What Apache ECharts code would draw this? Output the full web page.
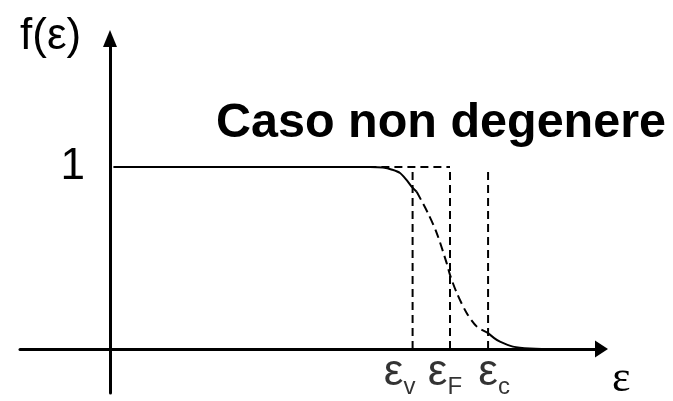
<!DOCTYPE html>
<html><head><meta charset="utf-8">
<script src="https://cdn.jsdelivr.net/npm/echarts@6/dist/echarts.min.js"></script>
<style>html,body{margin:0;padding:0;background:#fff}#c{width:673px;height:401px}</style>
</head><body><div id="c"></div>
<script>
// ---- data ----
const titleText = 'Caso non degenere';
const yAxisName = 'f(ε)';
const xAxisName = 'ε';
const yTickValues = [1];
const yTickLabels = ['1'];
const levelNames = ['v', 'F', 'c'];          // subscripts of ε_v, ε_F, ε_c
const levelValues = [8.9, 10.0, 11.12];       // energies of the dashed verticals
const boxTopLine = [[7.6, 1], [10.0, 1]];     // dashed top segment at f = 1
const curveSolidLeft = [[0.1, 1], [4, 1], [7.65, 1], [8.03, 0.997], [8.3, 0.985], [8.53, 0.967], [8.72, 0.929], [8.87, 0.892], [9.02, 0.864]];
const curveDashed = [[9.02, 0.864], [9.35, 0.747], [9.61, 0.637], [9.9, 0.473], [10.0, 0.407], [10.2, 0.308], [10.49, 0.198], [10.79, 0.123], [11.1, 0.09]];
const curveSolidRight = [[11.1, 0.09], [11.3, 0.06], [11.47, 0.04], [11.85, 0.013], [12.35, 0.003], [13.15, 0], [13.5, 0]];

// ---- chart ----
const chart = echarts.init(document.getElementById('c'), null, {renderer: 'canvas'});
const black = '#000';
const sans = 'Liberation Sans';
// per-label paddings used to nudge the level labels (style only)
const labelPads = [{e: [0, 0, 0, 0], s: [26, 26, 0, 0]}, {e: [0, 0, 0, 0], s: [26, 10, 0, 0]}, {e: [0, 0, 0, 12], s: [26, 0, 0, 0]}];
const rich = {};
labelPads.forEach((p, k) => {
  rich['e' + k] = {fontFamily: sans, fontSize: 44, lineHeight: 48, color: black, padding: p.e};
  rich['s' + k] = {fontFamily: sans, fontSize: 24, lineHeight: 22, color: black, verticalAlign: 'top', padding: p.s};
});

const dashed = [8, 5];
const series = [
  {type: 'line', data: curveSolidLeft, smooth: 0.3, showSymbol: false, lineStyle: {color: black, width: 2}},
  {type: 'line', data: curveDashed, smooth: 0.3, showSymbol: false, lineStyle: {color: black, width: 2, type: [9, 5]}},
  {type: 'line', data: curveSolidRight, smooth: 0.3, showSymbol: false, lineStyle: {color: black, width: 2}},
  {type: 'line', data: boxTopLine, showSymbol: false, lineStyle: {color: black, width: 2, type: dashed}}
];
levelValues.forEach(v => {
  series.push({type: 'line', data: [[v, 0], [v, 1]], showSymbol: false, lineStyle: {color: black, width: 2, type: dashed}});
});
series.push({
  type: 'scatter', symbolSize: 0, silent: true, z: 5,
  data: levelValues.map((v, i) => ({value: [v, 0], name: levelNames[i]})),
  label: {
    show: true, position: 'bottom', distance: 0,
    formatter: p => '{e' + p.dataIndex + '|ε}{s' + p.dataIndex + '|' + p.name + '}',
    rich: rich
  },
  labelLayout: {hideOverlap: false}
});

chart.setOption({
  animation: false,
  backgroundColor: '#fff',
  title: [
    {text: titleText, left: 216, top: 99, padding: 0, textStyle: {fontFamily: sans, fontSize: 48.5, fontWeight: 'bold', color: black}},
    {text: yAxisName, left: 20, top: 15, padding: 0, textStyle: {fontFamily: sans, fontSize: 44, fontWeight: 'normal', color: black}},
    {text: xAxisName, left: 612, top: 357, padding: 0, textStyle: {fontFamily: 'Liberation Serif', fontSize: 44, fontWeight: 'normal', color: black}}
  ],
  grid: {left: 20, right: 71.5, top: 38.5, bottom: 8, containLabel: false, outerBoundsMode: 'none'},
  xAxis: {
    type: 'value', min: -2.647, max: 14.456,
    axisLine: {onZero: true, lineStyle: {color: black, width: 3}, symbol: ['none', 'triangle'], symbolSize: [17, 13]},
    axisTick: {show: false},
    splitLine: {show: false},
    axisLabel: {show: false}
  },
  yAxis: {
    type: 'value', min: -0.2418, max: 1.706,
    axisLine: {onZero: true, lineStyle: {color: black, width: 3}, symbol: ['none', 'triangle'], symbolSize: [14, 17]},
    axisTick: {show: false},
    splitLine: {show: false},
    axisLabel: {
      customValues: yTickValues, margin: -65, hideOverlap: false,
      formatter: function (v) { const i = yTickValues.indexOf(v); return i >= 0 ? yTickLabels[i] : ''; },
      fontFamily: sans, fontSize: 44, color: black, padding: [0, 0, 8, 0]
    }
  },
  series: series
});
</script>
</body></html>
